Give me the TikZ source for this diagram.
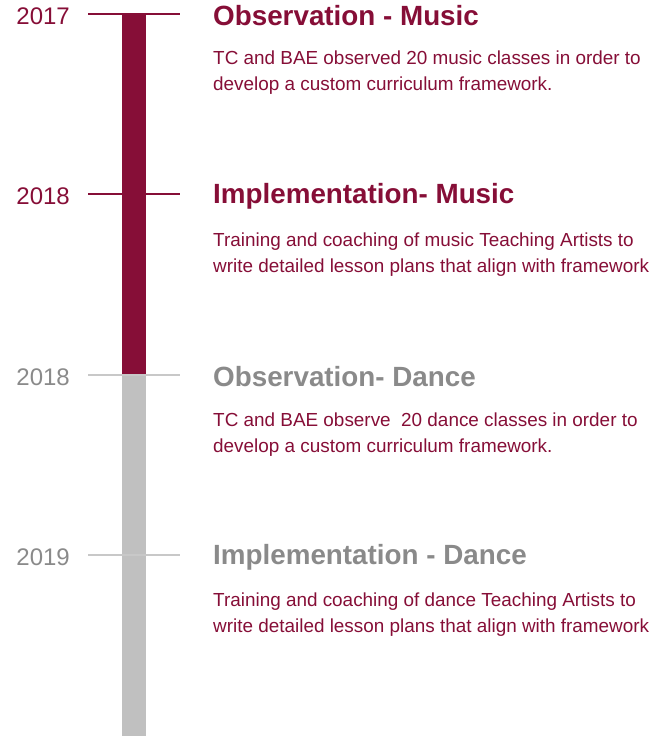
\documentclass[tikz,border=0pt]{standalone}
\usepackage{fontspec}
\setmainfont{Liberation Sans}
\usetikzlibrary{positioning}
\definecolor{crimson}{HTML}{860E37}
\definecolor{bargrey}{HTML}{C0C0C0}
\definecolor{textgrey}{HTML}{8A8A8A}
\definecolor{tickgrey}{HTML}{C8C8C8}

\tikzset{
  year/.style={anchor=east,inner sep=0pt,font=\fontsize{24}{28}\selectfont},
  title/.style={anchor=west,inner sep=0pt,font=\bfseries\fontsize{27.8}{32}\selectfont},
  body/.style={anchor=north west,inner sep=0pt,align=left,text=crimson,
    font=\fontsize{18.9}{26}\selectfont},
  tick/.style={line width=1.5pt}
}

\begin{document}
\begin{tikzpicture}[x=1pt,y=-1pt]
\useasboundingbox (0,0) rectangle (665,736);
% the bar
\fill[crimson] (122,14) rectangle (146,375);
\fill[bargrey] (122,375) rectangle (146,736);
% ticks
\coordinate (a1) at (88,14);  \coordinate (b1) at (180,14);
\coordinate (a2) at (88,194); \coordinate (b2) at (180,194);
\coordinate (a3) at (88,375); \coordinate (b3) at (180,375);
\coordinate (a4) at (88,555); \coordinate (b4) at (180,555);
\draw[tick,crimson] (a1) -- (b1);
\draw[tick,crimson] (a2) -- (b2);
\draw[tick,tickgrey] (a3) -- (b3);
\draw[tick,tickgrey] (a4) -- (b4);
% years
\node[year,text=crimson] (y1) at (70,16) {2017};
\node[year,text=crimson] (y2) at (70,196) {2018};
\node[year,text=textgrey] (y3) at (70,377) {2018};
\node[year,text=textgrey] (y4) at (70,557) {2019};
% titles
\node[title,text=crimson] (t1) at (213,16) {Observation - Music};
\node[title,text=crimson] (t2) at (213,196) {Implementation- Music};
\node[title,text=textgrey] (t3) at (213,377) {Observation- Dance};
\node[title,text=textgrey] (t4) at (213,557) {Implementation - Dance};
% texts
\node[body] (d1) at (213,51) {TC and BAE observed 20 music classes in order to\\develop a custom curriculum framework.};
\node[body] (d2) at (213,233) {Training and coaching of music Teaching Artists to\\write detailed lesson plans that align with framework};
\node[body] (d3) at (213,413) {TC and BAE observe\ \ 20 dance classes in order to\\develop a custom curriculum framework.};
\node[body] (d4) at (213,593) {Training and coaching of dance Teaching Artists to\\write detailed lesson plans that align with framework};
\end{tikzpicture}
\end{document}
